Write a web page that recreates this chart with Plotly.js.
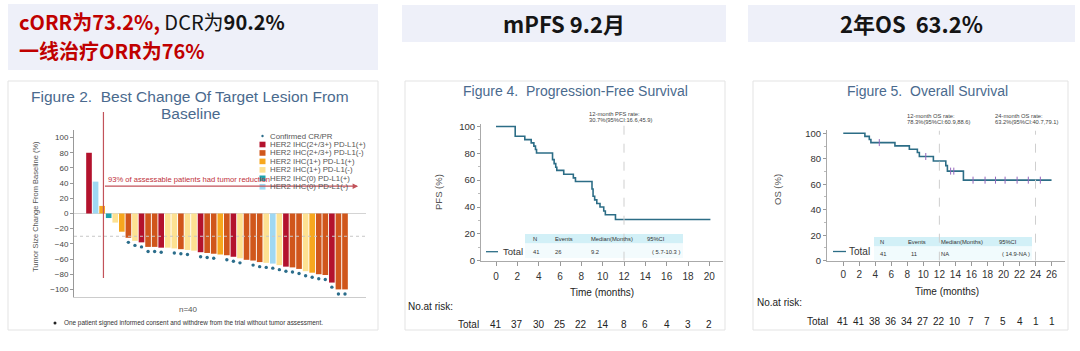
<!DOCTYPE html>
<html><head><meta charset="utf-8">
<script src="https://cdn.plot.ly/plotly-3.0.1.min.js"></script>
<style>html,body{margin:0;padding:0;background:#fff;}#chart{width:1080px;height:351px;}</style>
</head><body><div id="chart"></div>
<script>
// ---------- Waterfall data (Figure 2) ----------
const patients = Array.from({length: 40}, (_, i) => i + 1);
const changes = [80, 42, 10, -6, -12, -24, -32, -36, -38, -44, -44, -45, -45, -46, -47, -48, -49, -51, -52, -53,
                 -54, -55, -57, -59, -61, -62, -64, -65, -66, -68, -70, -71, -73, -76, -78, -80, -81, -91, -100, -100];
const groups = ['r','b','o','t','y','o','d','y','r','d','d','r','y','y','d','y','y','r','d','d',
                'o','d','r','y','d','d','d','y','b','y','r','d','d','y','o','d','d','r','d','d'];
const confirmed = [0,0,0,0,0,0,1,1,1,1,1,1,0,1,1,1,0,1,1,1,0,1,1,1,0,1,1,1,1,1,1,1,1,1,1,1,1,1,1,1];
const groupKeys = ['r','d','o','y','t','b'];
const groupLabels = ['HER2 IHC(2+/3+) PD-L1(+)','HER2 IHC(2+/3+) PD-L1(-)','HER2 IHC(1+) PD-L1(+)',
                     'HER2 IHC(1+) PD-L1(-)','HER2 IHC(0) PD-L1(+)','HER2 IHC(0) PD-L1(-)'];
const groupColors = {r:'#b3122d', d:'#d0561b', o:'#f7a71e', y:'#fde192', t:'#1ca3ad', b:'#9fd8f3'};
const wfTicks = [-100,-80,-60,-40,-20,0,20,40,60,80,100];

// ---------- PFS data (Figure 4) ----------
const pfsTime = [0, 1.8, 2.7, 3.3, 3.55, 3.7, 3.8, 5.3, 5.45, 5.6, 5.7, 6.35, 7.25, 7.45, 9.0, 9.1, 9.25, 9.45, 9.75, 10.1, 10.25, 11.2, 20.1];
const pfsSurv = [100, 92.7, 90.2, 87.8, 85.4, 82.9, 80.2, 75.3, 72.3, 69.6, 67.3, 64.4, 61.7, 59.0, 53.4, 48.0, 45.3, 42.6, 40.0, 37.0, 34.2, 30.7, 30.7];
const pfsTicks = [0,2,4,6,8,10,12,14,16,18,20];
const pfsRisk = [41,37,30,25,22,14,8,6,4,3,2];

// ---------- OS data (Figure 5) ----------
const osTime = [0, 2.7, 3.25, 3.45, 6.45, 8.25, 9.25, 9.5, 11.25, 12.8, 13.0, 15.0, 26.0];
const osSurv = [100, 97.6, 95.1, 92.7, 90.1, 87.5, 84.9, 81.8, 78.3, 74.6, 70.3, 63.2, 63.2];
const osCensor = [4.5, 10.3, 13.4, 13.8, 16.2, 17.7, 19.0, 20.2, 21.7, 23.1, 24.6];
const osTicks = [0,2,4,6,8,10,12,14,16,18,20,22,24,26];
const osRisk = [41,41,38,36,34,27,22,10,7,7,5,4,1,1];

// ---------- helpers ----------
const W = 1080, H = 351;
const X = p => p / W;
const Y = p => 1 - p / H;
const FONT = 'Liberation Sans, Arial, sans-serif';
const CJK = 'Noto Sans CJK SC, sans-serif';
const TITLE_C = '#4a6a8e';
const KM_C = '#2c6d86';
function ann(text, x, y, o) {
  o = o || {};
  return Object.assign({text: text, x: X(x), y: Y(y), xref: 'paper', yref: 'paper', showarrow: false,
    xanchor: o.xa || 'center', yanchor: 'middle',
    font: {family: o.family || FONT, size: o.size || 10, color: o.color || '#333'}}, o.extra || {});
}
function stepAt(ts, ss, t) { let v = ss[0]; for (let i = 0; i < ts.length; i++) if (ts[i] <= t) v = ss[i]; return v; }

// ---------- traces ----------
const cx = [], cy = [];
patients.forEach((p, i) => { if (confirmed[i]) { cx.push(p); cy.push(changes[i] - 6); } });
const traces = [
  {type: 'bar', x: patients, y: changes, xaxis: 'x', yaxis: 'y', width: 0.86,
   marker: {color: groups.map(g => groupColors[g]), line: {width: 0}}, hoverinfo: 'skip'},
  {type: 'scatter', mode: 'markers', x: cx, y: cy, xaxis: 'x', yaxis: 'y',
   marker: {size: 3.4, color: '#2b6d8b'}, hoverinfo: 'skip'},
  {type: 'scatter', mode: 'lines', x: pfsTime, y: pfsSurv, xaxis: 'x2', yaxis: 'y2',
   line: {shape: 'hv', color: KM_C, width: 1.6}, hoverinfo: 'skip'},
  {type: 'scatter', mode: 'lines', x: osTime, y: osSurv, xaxis: 'x3', yaxis: 'y3',
   line: {shape: 'hv', color: KM_C, width: 1.6}, hoverinfo: 'skip'},
  {type: 'scatter', mode: 'markers', x: osCensor, y: osCensor.map(t => stepAt(osTime, osSurv, t)), xaxis: 'x3', yaxis: 'y3',
   marker: {symbol: 'line-ns-open', size: 5, line: {width: 1, color: KM_C}}, hoverinfo: 'skip'}
];

// ---------- axes ----------
const baseAx = {showgrid: false, zeroline: false, showline: true, linecolor: '#aaa', linewidth: 1,
  ticks: 'outside', tickcolor: '#999', fixedrange: true};
const layout = {
  width: W, height: H, margin: {l: 0, r: 0, t: 0, b: 0}, paper_bgcolor: '#fff', plot_bgcolor: 'rgba(0,0,0,0)',
  showlegend: false,
  xaxis: Object.assign({}, baseAx, {domain: [X(74), X(366)], range: [-1.285, 43.2], anchor: 'y',
    showticklabels: false, ticks: '', linecolor: '#ccc'}),
  yaxis: Object.assign({}, baseAx, {domain: [Y(297), Y(130)], range: [-110, 110], anchor: 'x',
    tickvals: wfTicks, ticklen: 3, tickfont: {family: FONT, size: 8, color: '#444'}, linecolor: '#999',
    zeroline: true, zerolinecolor: '#d4d4d4', zerolinewidth: 1}),
  xaxis2: Object.assign({}, baseAx, {domain: [X(481), X(723)], range: [-1.406, 21.28], anchor: 'y2',
    tickvals: pfsTicks, ticklen: 4, ticklabelstandoff: 2, tickfont: {family: FONT, size: 10, color: '#333'}}),
  yaxis2: Object.assign({}, baseAx, {domain: [Y(260.7), Y(123.8)], range: [0, 102], anchor: 'x2',
    tickvals: [0,20,40,60,80,100], ticklen: 3, tickfont: {family: FONT, size: 9.5, color: '#333'},
    minor: {dtick: 10, ticks: 'outside', ticklen: 2, tickcolor: '#bbb'}}),
  xaxis3: Object.assign({}, baseAx, {domain: [X(827), X(1065)], range: [-2.03, 27.68], anchor: 'y3',
    tickvals: osTicks, ticklen: 4, tickfont: {family: FONT, size: 10, color: '#333'}}),
  yaxis3: Object.assign({}, baseAx, {domain: [Y(260.7), Y(130.1)], range: [0, 102.5], anchor: 'x3',
    tickvals: [0,20,40,60,80,100], ticklen: 3, tickfont: {family: FONT, size: 9.5, color: '#333'},
    minor: {dtick: 10, ticks: 'outside', ticklen: 2, tickcolor: '#bbb'}}),
  shapes: [], annotations: []
};
const S = layout.shapes, A = layout.annotations;
const rect = (x0, y0, x1, y1, fill, line) => ({type: 'rect', xref: 'paper', yref: 'paper', x0: X(x0), x1: X(x1), y0: Y(y1), y1: Y(y0),
  fillcolor: fill || 'rgba(0,0,0,0)', line: line || {width: 0}, layer: 'below'});

// header boxes
S.push(rect(8, 4, 378, 70, '#eef0f9'));
S.push(rect(402, 5, 726, 42, '#eef0f9'));
S.push(rect(748, 5, 1075, 42, '#eef0f9'));
A.push(ann('<span style="color:#c00000"><b>cORR为73.2%,</b></span> DCR为<b>90.2%</b>', 17, 22, {xa: 'left', family: CJK, size: 20, color: '#151515'}));
A.push(ann('<b>一线治疗ORR为76%</b>', 17, 50.5, {xa: 'left', family: CJK, size: 20, color: '#c00000'}));
A.push(ann('<b>mPFS 9.2月</b>', 564, 23, {family: CJK, size: 22, color: '#151515'}));
A.push(ann('<b>2年OS\u00a0 63.2%</b>', 911, 23, {family: CJK, size: 22, color: '#151515'}));

// panel frames
const frameLine = {color: '#e3e3e3', width: 1};
S.push(rect(8, 81, 378, 330, null, frameLine));
S.push(rect(405, 81, 725, 330, null, frameLine));
S.push(rect(753, 81, 1068, 330, null, frameLine));

// ---------- Waterfall decorations ----------
A.push(ann('Figure 2.\u00a0 Best Change Of Target Lesion From', 190, 96, {size: 15.5, color: TITLE_C}));
A.push(ann('Baseline', 190, 114, {size: 15.5, color: TITLE_C}));
A.push(ann('Tumor Size Change From Baseline (%)', 35, 207, {size: 7.5, color: '#555', extra: {textangle: -90}}));
S.push({type: 'line', xref: 'x domain', yref: 'y', x0: 0, x1: 1, y0: -30, y1: -30, line: {color: '#c8c8c8', width: 1, dash: 'dot'}});
S.push({type: 'line', xref: 'x', yref: 'paper', x0: 3.2, x1: 3.2, y0: Y(278), y1: Y(112), line: {color: '#c2525a', width: 1.2}});
A.push({x: 42.0, y: 36, xref: 'x', yref: 'y', ax: 3.2, ay: 36, axref: 'x', ayref: 'y', text: '', showarrow: true,
  arrowhead: 2, arrowsize: 1, arrowwidth: 1.1, arrowcolor: '#c2525a'});
A.push(ann('93% of assessable patients had tumor reduction', 106, 179,
  {xa: 'left', family: 'Liberation Sans Narrow, Liberation Sans, Arial', size: 7.6, color: '#c0303a'}));
// legend
S.push({type: 'circle', xref: 'paper', yref: 'paper', x0: X(261.3), x1: X(263.7), y0: Y(137.2), y1: Y(134.8),
  fillcolor: '#2b6d8b', line: {width: 0}});
A.push(ann('Confirmed CR/PR', 268, 136, {xa: 'left', size: 7.8, color: '#555'}));
groupKeys.forEach((g, i) => {
  const yy = 144.5 + i * 8.45;
  S.push({type: 'rect', xref: 'paper', yref: 'paper', x0: X(259.5), x1: X(265.5), y0: Y(yy + 2.8), y1: Y(yy - 2.8),
    fillcolor: groupColors[g], line: {width: 0}});
  A.push(ann(groupLabels[i], 268, yy, {xa: 'left', size: 7.8, color: '#555'}));
});
A.push(ann('n=40', 188, 309, {size: 8, color: '#555'}));
S.push({type: 'circle', xref: 'paper', yref: 'paper', x0: X(53.5), x1: X(56.5), y0: Y(324.5), y1: Y(321.5),
  fillcolor: '#222', line: {width: 0}});
A.push(ann('One patient signed informed consent and withdrew from the trial without tumor assessment.', 62, 323,
  {xa: 'left', size: 6.4, color: '#333'}));

// ---------- PFS decorations ----------
A.push(ann('Figure 4.\u00a0 Progression-Free Survival', 575, 91, {size: 14, color: TITLE_C}));
A.push(ann('PFS (%)', 438, 192, {size: 9.5, color: '#555', extra: {textangle: -90}}));
S.push({type: 'line', xref: 'x2', yref: 'y2', x0: 12, x1: 12, y0: 0, y1: 101, line: {color: '#cfcfcf', width: 1, dash: 'dash'}});
A.push(ann('12-month PFS rate:', 587, 114, {xa: 'left', size: 5.8, color: '#444'}));
A.push(ann('30.7%(95%CI:16.6,45.9)', 587, 120, {xa: 'left', size: 5.8, color: '#444'}));
S.push(rect(525, 234, 683, 243.5, '#d2f0f7'));
S.push(rect(525, 243.5, 683, 258, '#f3fbfd'));
[['N', 531], ['Events', 553], ['Median(Months)', 589], ['95%CI', 645]].forEach(d =>
  A.push(ann(d[0], d[1], 238.8, {xa: 'left', size: 5.8, color: '#333'})));
[['41', 531], ['26', 553], ['9.2', 589], ['( 5.7-10.3 )', 650]].forEach(d =>
  A.push(ann(d[0], d[1], 252, {xa: 'left', size: 5.8, color: '#333'})));
S.push({type: 'line', xref: 'paper', yref: 'paper', x0: X(486), x1: X(498), y0: Y(251.7), y1: Y(251.7), line: {color: KM_C, width: 1.3}});
A.push(ann('Total', 501, 251.7, {xa: 'left', size: 9.5, color: '#333'}));
A.push(ann('Time (months)', 602, 292.5, {size: 10, color: '#222'}));
A.push(ann('No.at risk:', 406, 306, {xa: 'left', size: 10, color: '#222'}));
A.push(ann('Total', 468, 324, {size: 10, color: '#222'}));
pfsTicks.forEach((t, i) => A.push({text: String(pfsRisk[i]), x: t, xref: 'x2', y: Y(324), yref: 'paper', showarrow: false,
  xanchor: 'center', yanchor: 'middle', font: {family: FONT, size: 10, color: '#222'}}));

// ---------- OS decorations ----------
A.push(ann('Figure 5.\u00a0 Overall Survival', 927, 91, {size: 14, color: TITLE_C}));
A.push(ann('OS (%)', 777, 190, {size: 9.5, color: '#555', extra: {textangle: -90}}));
[12, 24].forEach(t => S.push({type: 'line', xref: 'x3', yref: 'y3', x0: t, x1: t, y0: 0, y1: 102, line: {color: '#cfcfcf', width: 1, dash: 'dash'}}));
A.push(ann('12-month OS rate:', 905, 116, {xa: 'left', size: 5.8, color: '#444'}));
A.push(ann('78.3%(95%CI:60.9,88.6)', 905, 122, {xa: 'left', size: 5.8, color: '#444'}));
A.push(ann('24-month OS rate:', 993, 116, {xa: 'left', size: 5.8, color: '#444'}));
A.push(ann('63.2%(95%CI:40.7,79.1)', 993, 122, {xa: 'left', size: 5.8, color: '#444'}));
S.push(rect(874, 237, 1032, 246.5, '#d2f0f7'));
S.push(rect(874, 246.5, 1032, 260, '#f1fbfd'));
[['N', 878], ['Events', 906], ['Median(Months)', 939], ['95%CI', 997]].forEach(d =>
  A.push(ann(d[0], d[1], 241.8, {xa: 'left', size: 5.8, color: '#333'})));
[['41', 878], ['11', 909], ['NA', 939], ['( 14.9-NA )', 1000]].forEach(d =>
  A.push(ann(d[0], d[1], 254, {xa: 'left', size: 5.8, color: '#333'})));
S.push({type: 'line', xref: 'paper', yref: 'paper', x0: X(833), x1: X(846), y0: Y(251.5), y1: Y(251.5), line: {color: KM_C, width: 1.3}});
A.push(ann('Total', 847, 251.5, {xa: 'left', size: 10, color: '#333'}));
A.push(ann('Time (months)', 947, 291, {size: 10, color: '#222'}));
A.push(ann('No.at risk:', 755, 302.7, {xa: 'left', size: 10, color: '#222'}));
A.push(ann('Total', 817, 321, {size: 10, color: '#222'}));
osTicks.forEach((t, i) => A.push({text: String(osRisk[i]), x: t, xref: 'x3', y: Y(321), yref: 'paper', showarrow: false,
  xanchor: 'center', yanchor: 'middle', font: {family: FONT, size: 10, color: '#222'}}));

Plotly.newPlot('chart', traces, layout, {staticPlot: true, displayModeBar: false});
</script>
</body></html>
